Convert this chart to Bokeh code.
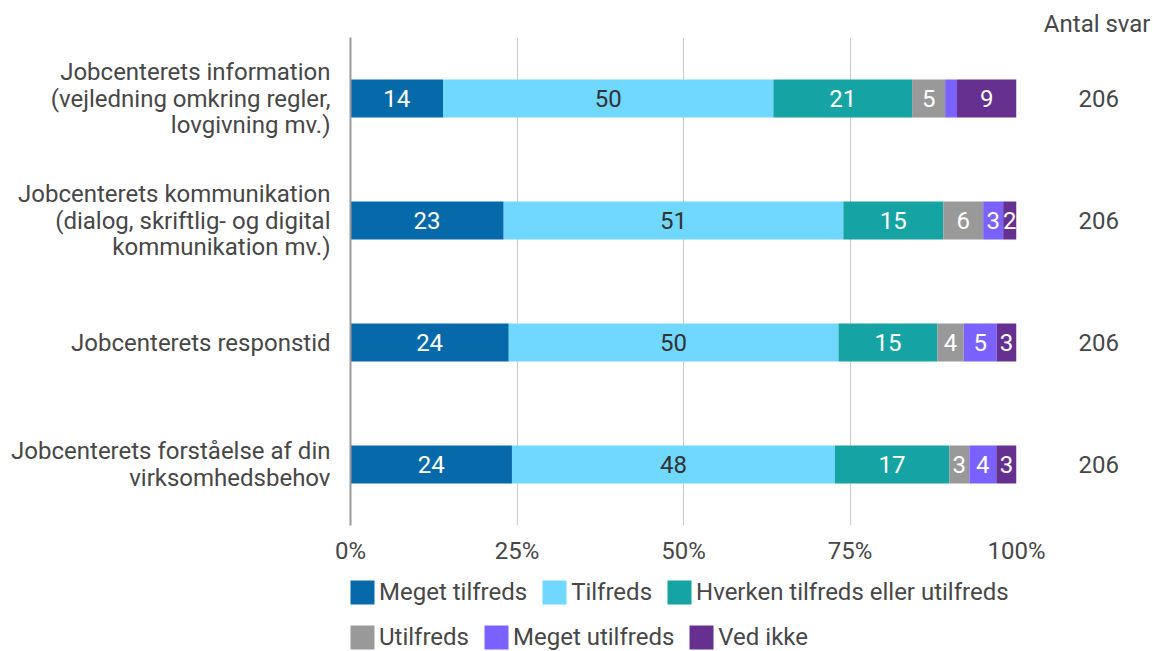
from bokeh.plotting import figure
from bokeh.layouts import column
from bokeh.models import (ColumnDataSource, LabelSet, Legend, LegendItem,
                          Range1d, NumeralTickFormatter, FixedTicker, LinearAxis)
from bokeh.core.properties import value
from bokeh.embed import file_html
from bokeh.resources import INLINE

categories = [
    "Jobcenterets information\n(vejledning omkring regler,\nlovgivning mv.)",
    "Jobcenterets kommunikation\n(dialog, skriftlig- og digital\nkommunikation mv.)",
    "Jobcenterets responstid",
    "Jobcenterets forståelse af din\nvirksomhedsbehov",
]
series = ["Meget tilfreds", "Tilfreds", "Hverken tilfreds eller utilfreds",
          "Utilfreds", "Meget utilfreds", "Ved ikke"]
colors = ["#0669aa", "#70d7ff", "#15a4a3", "#999999", "#7b61ff", "#65308f"]
label_colors = ["#ffffff", "#333333", "#ffffff", "#ffffff", "#ffffff", "#ffffff"]

meget_tilfreds = [14, 23, 24, 24]
tilfreds = [50, 51, 50, 48]
hverken = [21, 15, 15, 17]
utilfreds = [5, 6, 4, 3]
meget_utilfreds = [1.8, 3, 5, 4]
ved_ikke = [9, 2, 3, 3]
antal_svar = [206, 206, 206, 206]
x_ticks = [0, 0.25, 0.5, 0.75, 1.0]

data = [meget_tilfreds, tilfreds, hverken, utilfreds, meget_utilfreds, ved_ikke]

FONT = value("Roboto")
TXT = "#474747"
FS = "24px"

W = 1153
H_MAIN = 570
H_LEG = 81

n = len(categories)
row_pos = [n - 0.5 - i for i in range(n)]   # first category on top

p = figure(width=W, height=H_MAIN, output_backend="svg", toolbar_location=None,
           y_range=Range1d(0, n), x_range=Range1d(0, 1),
           min_border_left=350, min_border_right=137, min_border_top=37,
           min_border_bottom=H_MAIN - 525,
           title="Antal svar")
p.outline_line_color = None
p.background_fill_color = "white"
p.border_fill_color = "white"

p.title.align = "right"
p.title.offset = -134
p.title.standoff = 0
p.title.text_font = "Roboto"
p.title.text_font_size = FS
p.title.text_font_style = "normal"
p.title.text_color = TXT

totals = [sum(d[i] for d in data) for i in range(n)]
cum = [0.0] * n
lab_x, lab_y, lab_t, lab_c = [], [], [], []
for s, vals, col, lc in zip(series, data, colors, label_colors):
    left = [cum[i] / totals[i] for i in range(n)]
    right = [(cum[i] + vals[i]) / totals[i] for i in range(n)]
    src = ColumnDataSource(dict(y=row_pos, left=left, right=right))
    p.hbar(y="y", left="left", right="right", height=0.31, source=src,
           fill_color=col, line_color=None)
    for i in range(n):
        cum[i] += vals[i]
        if vals[i] >= 2:
            lab_x.append((left[i] + right[i]) / 2)
            lab_y.append(row_pos[i])
            lab_t.append(str(int(round(vals[i]))))
            lab_c.append(lc)

lsrc = ColumnDataSource(dict(x=lab_x, y=lab_y, t=lab_t, c=lab_c))
p.add_layout(LabelSet(x="x", y="y", text="t", source=lsrc, text_color="c",
                      text_align="center", text_baseline="middle",
                      text_font_size=FS, text_font=FONT))

# axes
p.xaxis.ticker = FixedTicker(ticks=x_ticks)
p.xaxis.formatter = NumeralTickFormatter(format="0%")
p.xaxis.axis_line_color = None
p.xaxis.major_tick_line_color = None
p.xaxis.minor_tick_line_color = None
p.xaxis.major_tick_out = 0
p.xaxis.major_label_standoff = 11
p.xaxis.major_label_text_font_size = FS
p.xaxis.major_label_text_color = TXT
p.xaxis.major_label_text_font = "Roboto"

p.yaxis.ticker = FixedTicker(ticks=row_pos)
p.yaxis.major_label_overrides = {pos: c for pos, c in zip(row_pos, categories)}
p.yaxis.axis_line_color = "#9a9a9a"
p.yaxis.axis_line_width = 2
p.yaxis.major_tick_line_color = None
p.yaxis.minor_tick_line_color = None
p.yaxis.major_tick_out = 0
p.yaxis.major_label_standoff = 20
p.yaxis.major_label_text_font_size = FS
p.yaxis.major_label_text_color = TXT
p.yaxis.major_label_text_font = "Roboto"
p.yaxis.major_label_text_line_height = 0.96

# right axis with number of answers
rax = LinearAxis(ticker=FixedTicker(ticks=row_pos),
                 major_label_overrides={pos: str(v) for pos, v in zip(row_pos, antal_svar)},
                 axis_line_color=None, major_tick_line_color=None,
                 minor_tick_line_color=None, major_tick_out=0,
                 major_label_standoff=62, major_label_text_font_size=FS,
                 major_label_text_color=TXT, major_label_text_font="Roboto")
p.add_layout(rax, "right")

p.xgrid.grid_line_color = "#cccccc"
p.xgrid.ticker = FixedTicker(ticks=x_ticks)
p.ygrid.grid_line_color = None

# legend strip (its frame is aligned with the main plot's frame by the column layout)
q = figure(width=W, height=H_LEG, output_backend="svg", toolbar_location=None,
           x_axis_type=None, y_axis_type=None, x_range=Range1d(0, 1), y_range=Range1d(0, 1),
           min_border_left=0, min_border_right=0, min_border_top=0, min_border_bottom=0)
q.outline_line_color = None
q.border_fill_color = "white"
q.background_fill_color = "white"
items = []
for s, col in zip(series, colors):
    # swatch renderer: a single bar kept outside the visible range
    r = q.hbar(y=[-5], left=[0], right=[0.1], height=0.5, fill_color=col, line_color=None)
    items.append(LegendItem(label=s, renderers=[r]))

common = dict(orientation="horizontal", glyph_width=30, glyph_height=30, label_height=24,
              label_standoff=2, spacing=12, padding=0, margin=0,
              border_line_color=None, background_fill_alpha=0,
              label_text_font_size=FS, label_text_color=TXT, label_text_font="Roboto")
leg1 = Legend(items=items[:3], location=(-3, 44), **common)
leg2 = Legend(items=items[3:], location=(-3, -1), **common)
q.add_layout(leg1, "center")
q.add_layout(leg2, "center")

layout = column(p, q, spacing=0)
open("out.html", "w").write(file_html(layout, INLINE))
